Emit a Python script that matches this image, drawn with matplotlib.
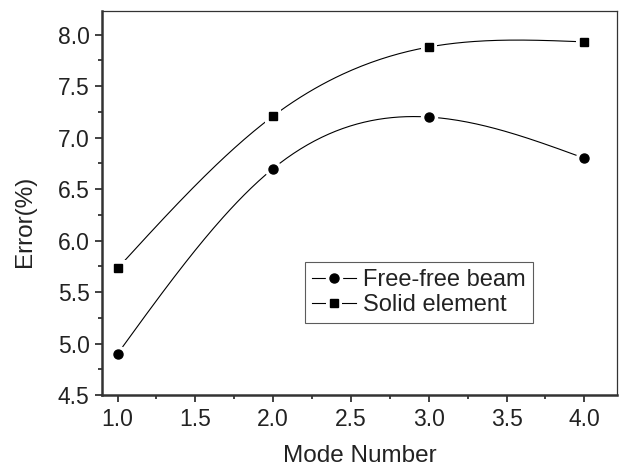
import numpy as np
import matplotlib
matplotlib.use("Agg")
import matplotlib.pyplot as plt
from matplotlib.ticker import MultipleLocator, AutoMinorLocator
from matplotlib.legend_handler import HandlerTuple

plt.rcParams['font.family'] = ['Liberation Sans', 'DejaVu Sans']

mode = [1, 2, 3, 4]
free_free = [4.90, 6.70, 7.20, 6.80]
solid = [5.73, 7.21, 7.88, 7.93]


def natural_spline(x, y, n=200):
    x = np.asarray(x, float); y = np.asarray(y, float)
    k = len(x)
    h = np.diff(x)
    A = np.zeros((k, k)); b = np.zeros(k)
    A[0, 0] = 1; A[-1, -1] = 1
    for i in range(1, k - 1):
        A[i, i - 1] = h[i - 1]
        A[i, i] = 2 * (h[i - 1] + h[i])
        A[i, i + 1] = h[i]
        b[i] = 3 * ((y[i + 1] - y[i]) / h[i] - (y[i] - y[i - 1]) / h[i - 1])
    c = np.linalg.solve(A, b)
    xs = np.linspace(x[0], x[-1], n)
    ys = np.empty_like(xs)
    for j, xv in enumerate(xs):
        i = min(np.searchsorted(x, xv, side='right') - 1, k - 2)
        dx = xv - x[i]
        bb = (y[i + 1] - y[i]) / h[i] - h[i] * (2 * c[i] + c[i + 1]) / 3
        d = (c[i + 1] - c[i]) / (3 * h[i])
        ys[j] = y[i] + bb * dx + c[i] * dx ** 2 + d * dx ** 3
    return xs, ys


fig = plt.figure(figsize=(6.24, 4.68), dpi=100)
ax = fig.add_axes([102 / 624, 1 - 395 / 468, (617 - 102) / 624, (395 - 11) / 468])

handles = []
for data, mk, ms, lab in [(free_free, 'o', 6.5, 'Free-free beam'),
                          (solid, 's', 5.8, 'Solid element')]:
    xs, ys = natural_spline(mode, data)
    ln, = ax.plot(xs, ys, color='black', lw=0.8, zorder=2)
    wm, = ax.plot(mode, data, linestyle='none', marker=mk, markersize=ms + 6,
                  color='white', markeredgewidth=0, zorder=3)
    bm, = ax.plot(mode, data, linestyle='none', marker=mk, markersize=ms,
                  color='black', zorder=4)
    handles.append(((ln, wm, bm), lab))

leg = ax.legend([h for h, _ in handles], [l for _, l in handles],
                handler_map={tuple: HandlerTuple(ndivide=1, pad=0)},
                loc='upper left',
                bbox_to_anchor=((305 - 102) / 515, (395 - 262) / 384),
                frameon=True, fancybox=False, edgecolor='#333333', fontsize=17,
                handlelength=1.85, handletextpad=0.3, borderpad=0.3,
                labelspacing=0.12, borderaxespad=0)
leg.get_frame().set_linewidth(0.8)
for t in leg.get_texts():
    t.set_color('#222222')

ax.set_xlim(0.9, 4.21)
ax.set_ylim(4.5, 8.23)
ax.xaxis.set_major_locator(MultipleLocator(0.5))
ax.xaxis.set_minor_locator(AutoMinorLocator(2))
ax.yaxis.set_major_locator(MultipleLocator(0.5))
ax.yaxis.set_minor_locator(AutoMinorLocator(2))
ax.xaxis.set_major_formatter(plt.FormatStrFormatter('%.1f'))
ax.yaxis.set_major_formatter(plt.FormatStrFormatter('%.1f'))

ax.tick_params(which='major', direction='out', length=5, width=1.3, labelsize=16.5,
               top=False, right=False, color='#333333', labelcolor='#222222', pad=4)
ax.tick_params(which='minor', direction='out', length=3, width=1.3,
               top=False, right=False, color='#333333')
ax.spines['left'].set_linewidth(1.8)
ax.spines['bottom'].set_linewidth(1.8)
ax.spines['top'].set_linewidth(0.9)
ax.spines['right'].set_linewidth(0.9)
for s in ax.spines.values():
    s.set_color('#333333')

ax.set_xlabel('Mode Number', fontsize=17.5, color='#222222')
ax.set_ylabel('Error(%)', fontsize=17.5, color='#222222')
ax.xaxis.set_label_coords(0.5, -(462 - 395) / 384, transform=ax.transAxes)
ax.xaxis.label.set_va('baseline')
ax.yaxis.set_label_coords(-(102 - 36) / 515, (395 - 221) / 384, transform=ax.transAxes)
ax.yaxis.label.set_va('bottom')

fig.savefig('out.png', dpi=100)
